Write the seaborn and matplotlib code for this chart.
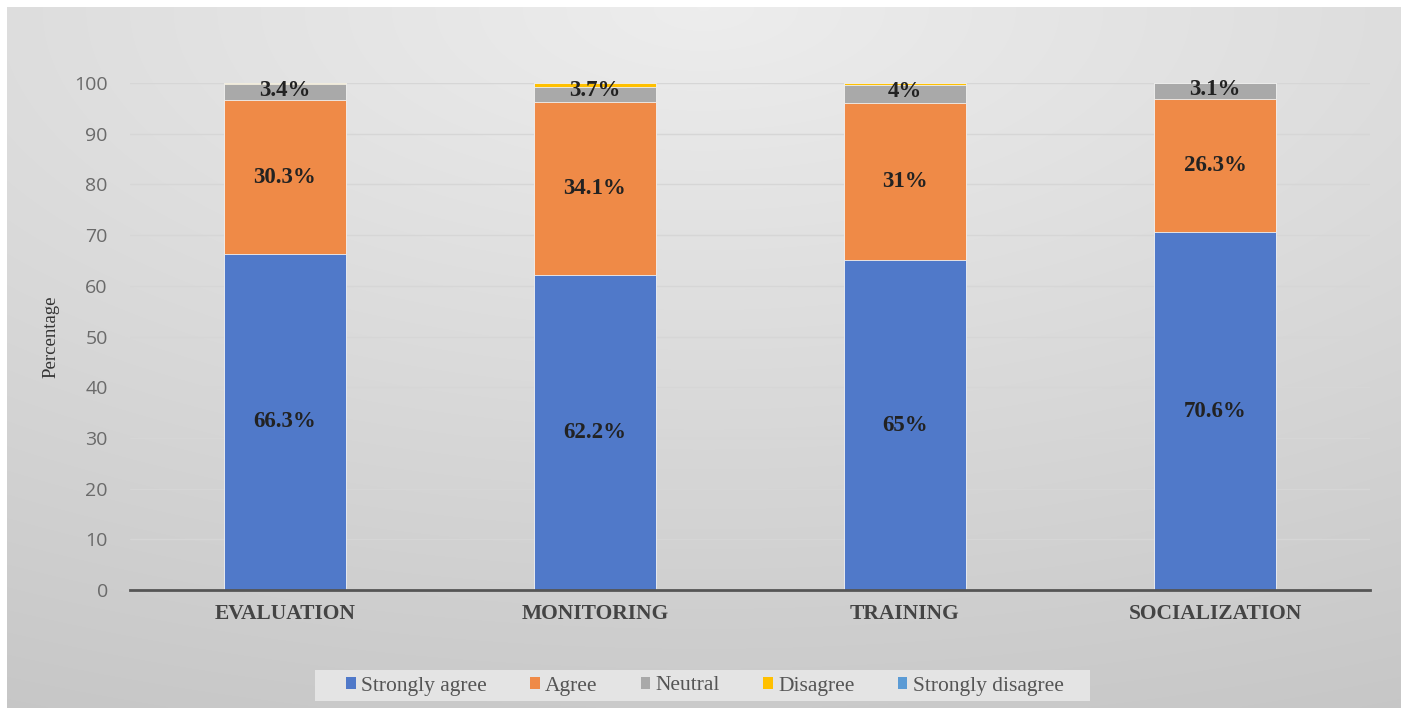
import numpy as np
import pandas as pd
import matplotlib
matplotlib.use("Agg")
import matplotlib.pyplot as plt
import seaborn as sns
from matplotlib.patches import Rectangle

categories = ["EVALUATION", "MONITORING", "TRAINING", "SOCIALIZATION"]
strongly_agree = [66.3, 62.2, 65.0, 70.6]
agree = [30.3, 34.1, 31.0, 26.3]
neutral = [3.2, 2.9, 3.7, 3.1]
disagree = [0.2, 0.8, 0.3, 0.0]
strongly_disagree = [0.0, 0.0, 0.0, 0.0]

sa_labels = ["66.3%", "62.2%", "65%", "70.6%"]
a_labels = ["30.3%", "34.1%", "31%", "26.3%"]
n_labels = ["3.4%", "3.7%", "4%", "3.1%"]

series = ["Strongly agree", "Agree", "Neutral", "Disagree", "Strongly disagree"]
colors = ["#5079c9", "#ef8a47", "#a9a9a9", "#ffc000", "#5b9bd5"]
values = [strongly_agree, agree, neutral, disagree, strongly_disagree]

sns.set_theme(style="white")
plt.rcParams["font.family"] = ["Liberation Serif", "DejaVu Serif"]

W, H = 1407, 709
fig = plt.figure(figsize=(W / 100, H / 100), dpi=100)
fig.patch.set_facecolor("white")

# gradient background panel
bg = fig.add_axes([7 / W, 1 - 708 / H, (1401 - 7) / W, (708 - 7) / H], zorder=-10)
yy, xx = np.mgrid[0:1:300j, 0:1:600j]
d = np.sqrt(((xx - 0.5) * 1.0) ** 2 + (yy * 1.1) ** 2)
shade = 0.93 - 0.15 * np.clip(d, 0, 1.2) / 1.2
img = np.dstack([shade, shade, shade])
bg.imshow(img, aspect="auto", extent=[0, 1, 1, 0], interpolation="bilinear")
bg.set_axis_off()

# legend box background
fig.patches.append(Rectangle((315 / W, 1 - 701 / H), (1090 - 315) / W, 31 / H,
                             transform=fig.transFigure, facecolor="#e4e4e4",
                             edgecolor="none", zorder=-5))

ax = fig.add_axes([130 / W, 1 - 590 / H, (1370 - 130) / W, (590 - 83) / H])
ax.patch.set_alpha(0)

cum = np.zeros(len(categories))
cums = []
for v in values:
    cum = cum + np.array(v)
    cums.append(cum.copy())

# draw from top layer to bottom so lower segments overlay
for i in range(len(series) - 1, -1, -1):
    df = pd.DataFrame({"cat": categories, "val": cums[i]})
    sns.barplot(data=df, x="cat", y="val", color=colors[i], width=0.395,
                saturation=1, ax=ax, zorder=3, edgecolor="#f2f2f2", linewidth=0.6)

ax.set_ylim(0, 100)
ax.set_xlim(-0.5, 3.5)
ax.set_yticks(range(0, 101, 10))
ax.yaxis.grid(True, color="#d6d6d6", linewidth=1, zorder=0)
ax.set_axisbelow(True)
for s in ["top", "right", "left"]:
    ax.spines[s].set_visible(False)
ax.spines["bottom"].set_color("#555555")
ax.spines["bottom"].set_linewidth(2)
ax.spines["bottom"].set_zorder(5)
ax.tick_params(axis="both", length=0)
ax.tick_params(axis="y", pad=16)
ax.tick_params(axis="x", pad=10)
for lab in ax.get_yticklabels():
    lab.set_fontfamily("Open Sans")
    lab.set_fontsize(14)
    lab.set_color("#6a6a6a")
for lab in ax.get_xticklabels():
    lab.set_fontfamily("Liberation Serif")
    lab.set_fontweight("bold")
    lab.set_fontsize(15.5)
    lab.set_color("#444444")
ax.set_xlabel("")
ax.set_ylabel("Percentage", fontsize=13.5, color="#333333",
              fontfamily="Liberation Serif")
ax.yaxis.set_label_coords(-0.057, 0.5)

x = np.arange(len(categories))
sa = np.array(strongly_agree)
ag = np.array(agree)
ne = np.array(neutral) + np.array(disagree)
for j in range(len(categories)):
    ax.text(x[j], sa[j] / 2, sa_labels[j], ha="center", va="center",
            fontsize=16.5, fontweight="bold", color="#222222", zorder=6)
    ax.text(x[j], sa[j] + ag[j] / 2, a_labels[j], ha="center", va="center",
            fontsize=16.5, fontweight="bold", color="#222222", zorder=6)
    ax.text(x[j], sa[j] + ag[j] + ne[j] / 2 + 0.3, n_labels[j], ha="center",
            va="center", fontsize=16.5, fontweight="bold", color="#222222", zorder=6)

handles = [Rectangle((0, 0), 1, 1, facecolor=c, edgecolor="none") for c in colors]
leg = fig.legend(handles, series, loc="center", bbox_to_anchor=(705 / W, 1 - 686 / H),
                 ncol=5, frameon=False, prop={"family": "Liberation Serif", "size": 15.5},
                 handlelength=0.45, handleheight=0.45, handletextpad=0.25,
                 columnspacing=2.0, labelcolor="#555555")

fig.savefig("out.png", dpi=100)
